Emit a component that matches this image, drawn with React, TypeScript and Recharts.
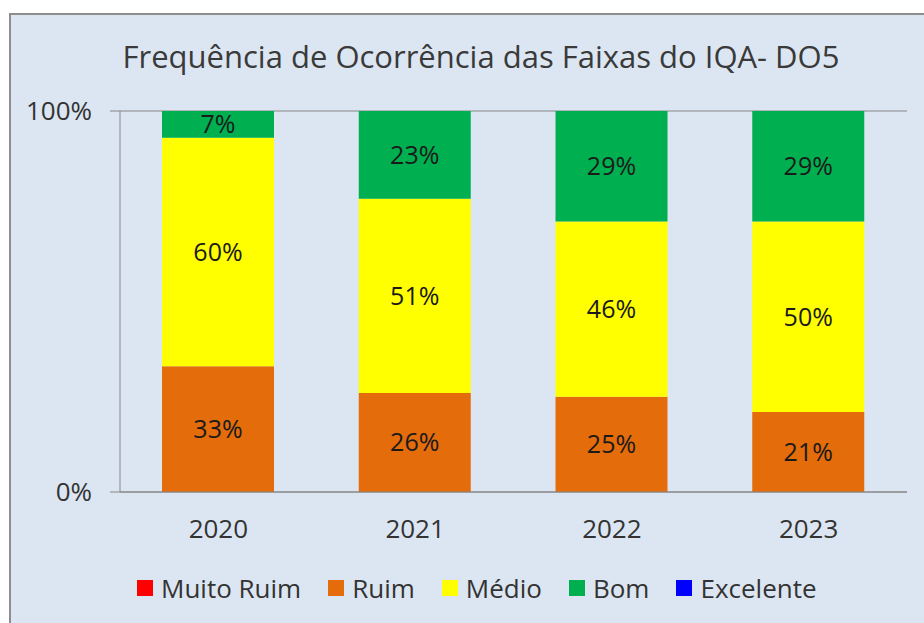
import React from "react";
import {
  BarChart,
  Bar,
  XAxis,
  YAxis,
  CartesianGrid,
  Legend,
  LabelList,
} from "recharts";

const years = ["2020", "2021", "2022", "2023"];
const muitoRuim = [0, 0, 0, 0];
const ruim = [33, 26, 25, 21];
const medio = [60, 51, 46, 50];
const bom = [7, 23, 29, 29];
const excelente = [0, 0, 0, 0];
const yTicks = [0, 100];

const series = [
  { key: "muitoRuim", name: "Muito Ruim", color: "#ff0000", values: muitoRuim },
  { key: "ruim", name: "Ruim", color: "#e46c0a", values: ruim },
  { key: "medio", name: "Médio", color: "#ffff00", values: medio },
  { key: "bom", name: "Bom", color: "#00b050", values: bom },
  { key: "excelente", name: "Excelente", color: "#0000ff", values: excelente },
];

const data = years.map((year, i) => {
  const row: any = { year };
  series.forEach((s) => {
    row[s.key] = s.values[i];
  });
  return row;
});

const FONT = "'Open Sans', sans-serif";
const GRAY = "#868686";

// legend kept in series order (recharts sorts the payload otherwise)
function LegendContent() {
  return (
    <div style={{ display: "flex", alignItems: "center", height: 30, paddingLeft: 137 }}>
      {series.map((s) => (
        <div key={s.key} style={{ display: "flex", alignItems: "center", marginRight: 27 }}>
          <div style={{ width: 16, height: 16, background: s.color, marginRight: 8 }} />
          <span style={{ fontSize: 26, color: "#333", lineHeight: "30px" }}>{s.name}</span>
        </div>
      ))}
    </div>
  );
}

export default function App() {
  return (
    <div
      style={{
        position: "absolute",
        left: 0,
        top: 0,
        width: 924,
        height: 623,
        overflow: "hidden",
        background: "#fff",
        fontFamily: FONT,
      }}
    >
      <div
        style={{
          position: "absolute",
          left: 9,
          top: 13,
          width: 940,
          height: 640,
          border: "2px solid #8e8e8e",
          background: "#dce6f2",
        }}
      />
      <div
        style={{
          position: "absolute",
          left: 81,
          top: 41,
          width: 800,
          textAlign: "center",
          fontSize: 31,
          lineHeight: "30px",
          color: "#3a3a3a",
        }}
      >
        Frequência de Ocorrência das Faixas do IQA- DO5
      </div>
      <div style={{ position: "absolute", left: 0, top: 0 }}>
        <BarChart
          width={924}
          height={623}
          data={data}
          margin={{ top: 111, right: 17, bottom: 61, left: 60 }}
        >
          <CartesianGrid vertical={false} stroke={GRAY} />
          <XAxis
            dataKey="year"
            tickLine={false}
            tickSize={0}
            tickMargin={28}
            height={40}
            axisLine={{ stroke: GRAY }}
            tick={{ fontSize: 26, fill: "#333" }}
          />
          <YAxis
            width={60}
            domain={[0, 100]}
            ticks={yTicks}
            tickFormatter={(v: number) => `${v}%`}
            tickSize={10}
            tickMargin={18}
            axisLine={{ stroke: GRAY }}
            tickLine={{ stroke: GRAY }}
            tick={{ fontSize: 26, fill: "#333" }}
          />
          <Legend
            content={<LegendContent />}
            verticalAlign="bottom"
            wrapperStyle={{ top: 573, left: 0, bottom: "auto", width: 924 }}
          />
          {series.map((s) => (
            <Bar
              key={s.key}
              dataKey={s.key}
              name={s.name}
              stackId="a"
              fill={s.color}
              barSize={112}
              isAnimationActive={false}
            >
              {s.key !== "muitoRuim" && s.key !== "excelente" && (
                <LabelList
                  dataKey={s.key}
                  position="center"
                  formatter={(v: any) => `${v}%`}
                  fill="#1a1a1a"
                  fontSize={25}
                />
              )}
            </Bar>
          ))}
        </BarChart>
      </div>
    </div>
  );
}
